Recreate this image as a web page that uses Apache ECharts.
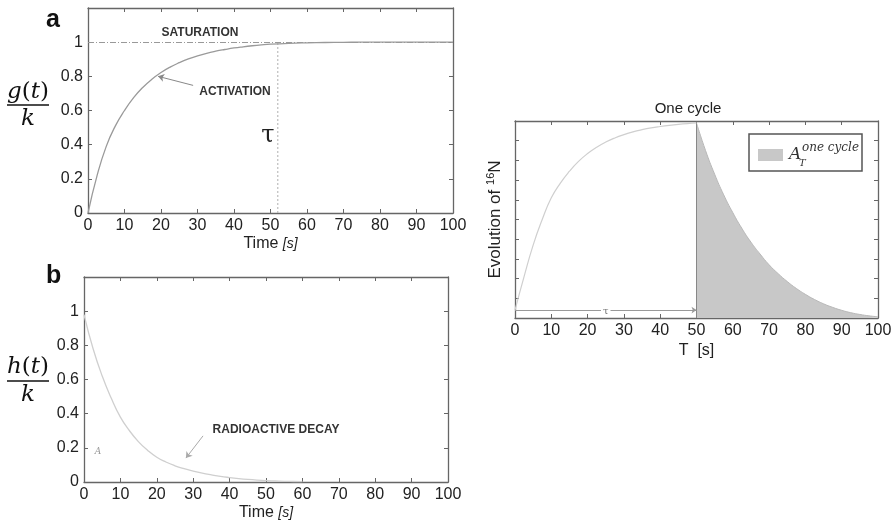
<!DOCTYPE html>
<html><head><meta charset="utf-8">
<script src="https://cdn.jsdelivr.net/npm/echarts@6/dist/echarts.min.js"></script>
<style>html,body{margin:0;padding:0;background:#fff}#c{width:896px;height:525px}</style>
</head><body><div id="c"></div>
<script>
// ---- data ----
const tA = [0, 2.5, 5, 7.5, 10, 12.5, 15, 17.5, 20, 22.5, 25, 27.5, 30, 32.5, 35, 37.5, 40, 42.5, 45, 47.5, 50,
            55, 60, 65, 70, 75, 80, 85, 90, 95, 100];
const gA = [0, 0.22, 0.39, 0.51, 0.60, 0.675, 0.735, 0.783, 0.822, 0.854, 0.88, 0.902, 0.92, 0.935, 0.947, 0.957, 0.966, 0.973, 0.979, 0.984, 0.988,
            0.993, 0.996, 0.998, 0.999, 1, 1, 1, 1, 1, 1];
const tB = [0, 2.5, 5, 7.5, 10, 12.5, 15, 17.5, 20, 22.5, 25, 27.5, 30, 32.5, 35, 37.5, 40, 42.5, 45, 47.5, 50, 52.5, 55, 57.5, 60];
const hB = [0.98, 0.78, 0.62, 0.49, 0.38, 0.30, 0.235, 0.185, 0.145, 0.117, 0.095, 0.078, 0.064, 0.052, 0.042, 0.033, 0.026, 0.02, 0.015, 0.011, 0.008, 0.006, 0.004, 0.003, 0.002];
const tRise = [0, 2.5, 5, 7.5, 10, 12.5, 15, 17.5, 20, 22.5, 25, 27.5, 30, 32.5, 35, 37.5, 40, 42.5, 45, 47.5, 50];
const nRise = [0.04, 0.21, 0.37, 0.50, 0.61, 0.685, 0.745, 0.795, 0.835, 0.867, 0.893, 0.914, 0.931, 0.945, 0.956, 0.965, 0.972, 0.978, 0.983, 0.987, 0.99];
const tDecay = [50, 52.5, 55, 57.5, 60, 62.5, 65, 67.5, 70, 72.5, 75, 77.5, 80, 82.5, 85, 87.5, 90, 92.5, 95, 97.5, 100];
const nDecay = [0.99, 0.85, 0.73, 0.625, 0.535, 0.455, 0.385, 0.325, 0.27, 0.225, 0.185, 0.15, 0.12, 0.094, 0.072, 0.054, 0.039, 0.027, 0.018, 0.011, 0.006];
const tauA = 52;          // dotted marker in panel a
const tauCycle = 50;      // end of irradiation in "One cycle"
const xTickStep = 10;
const yTickStepAB = 0.2;
const yTickStepC = 0.1;

// ---- helpers ----
const pair = (xs, ys) => xs.map((x, i) => [x, ys[i]]);
const AX = '#666';
const TXT = '#222';
const SANS = '"Liberation Sans", Arial, sans-serif';
const SERIF = '"DejaVu Serif", "Liberation Serif", serif';
const line = {show: true, onZero: false, lineStyle: {color: AX, width: 1.3}};
const tick = {show: true, inside: true, length: 4, lineStyle: {color: AX, width: 1}};
const lab = {color: TXT, fontSize: 16, fontFamily: SANS};

function xPair(grid, name, gap) {
  return [
    {type: 'value', gridIndex: grid, position: 'bottom', min: 0, max: 100, interval: xTickStep,
     axisLine: line, axisTick: tick, splitLine: {show: false},
     axisLabel: Object.assign({margin: 5}, lab),
     name: name, nameLocation: 'middle', nameGap: gap,
     nameTextStyle: {color: TXT, fontSize: 16, fontFamily: SANS,
       rich: {s: {color: TXT, fontSize: 14, fontStyle: 'italic', fontFamily: SANS}}}},
    {type: 'value', gridIndex: grid, position: 'top', min: 0, max: 100, interval: xTickStep,
     axisLine: line, axisTick: tick, splitLine: {show: false}, axisLabel: {show: false}}
  ];
}
function yPair(grid, max, step, showLab, extra) {
  return [
    Object.assign({type: 'value', gridIndex: grid, position: 'left', min: 0, max: max, interval: step,
     axisLine: line, axisTick: tick, splitLine: {show: false},
     axisLabel: showLab ? Object.assign({margin: 5,
       formatter: v => v > 1.05 ? '' : String(+v.toFixed(1))}, lab) : {show: false}}, extra || {}),
    {type: 'value', gridIndex: grid, position: 'right', min: 0, max: max, interval: step,
     axisLine: line, axisTick: tick, splitLine: {show: false}, axisLabel: {show: false}}
  ];
}
const arrowML = (a, b, color) => ({
  silent: true, symbol: ['none', 'arrow'], symbolSize: 6, label: {show: false},
  lineStyle: {color: color || '#888', width: 1, type: 'solid'},
  data: [[{coord: a}, {coord: b}]]
});

const chart = echarts.init(document.getElementById('c'), null, {renderer: 'canvas'});
chart.setOption({
  animation: false,
  backgroundColor: '#fff',
  grid: [
    {left: 88, top: 8, width: 365, height: 205},
    {left: 84, top: 277, width: 364, height: 205},
    {left: 515, top: 121, width: 363, height: 197}
  ],
  xAxis: [
    ...xPair(0, 'Time {s|[s]}', 23),
    ...xPair(1, 'Time {s|[s]}', 23),
    ...xPair(2, 'T  [s]', 25)
  ],
  yAxis: [
    ...yPair(0, 1.2, yTickStepAB, true),
    ...yPair(1, 1.2, yTickStepAB, true),
    ...yPair(2, 1, yTickStepC, false, {
      name: 'Evolution of {sup|16}N', nameLocation: 'middle', nameRotate: 90, nameGap: 9,
      nameTextStyle: {color: TXT, fontSize: 17, fontFamily: SANS,
        rich: {sup: {color: TXT, fontSize: 11, fontFamily: SANS, padding: [0, 0, 10, 0]}}}
    })
  ],
  title: {text: 'One cycle', left: 683, top: 96, textAlign: 'center',
    textStyle: {color: TXT, fontSize: 15, fontWeight: 'normal', fontFamily: SANS}},
  series: [
    {type: 'line', name: 'g', xAxisIndex: 0, yAxisIndex: 0, data: pair(tA, gA),
     smooth: 0.5, showSymbol: false, symbol: 'none',
     lineStyle: {color: '#9a9a9a', width: 1.3}, z: 3,
     markLine: {silent: true, symbol: 'none', label: {show: false},
       lineStyle: {color: '#999', width: 1, type: [6, 2, 1, 2]},
       data: [{yAxis: 1}]}},
    {type: 'line', name: 'tauA', xAxisIndex: 0, yAxisIndex: 0, data: [[tauA, 0], [tauA, 1]],
     showSymbol: false, symbol: 'none', lineStyle: {color: '#b0b0b0', width: 1, type: [2, 2]}, z: 2},
    {type: 'line', name: 'actArrow', xAxisIndex: 0, yAxisIndex: 0, data: [],
     markLine: arrowML([28.8, 0.747], [19.2, 0.80])},
    {type: 'line', name: 'h', xAxisIndex: 2, yAxisIndex: 2, data: pair(tB, hB),
     smooth: 0.5, showSymbol: false, symbol: 'none',
     lineStyle: {color: '#cfcfcf', width: 1.3}, z: 3,
     markLine: arrowML([32.7, 0.27], [28.0, 0.14], '#aaa')},
    {type: 'line', name: 'rise', xAxisIndex: 4, yAxisIndex: 4, data: pair(tRise, nRise),
     smooth: 0.5, showSymbol: false, symbol: 'none',
     lineStyle: {color: '#cfcfcf', width: 1.2}, z: 3,
     markLine: {silent: true, symbol: ['none', 'arrow'], symbolSize: 5,
       lineStyle: {color: '#999', width: 1, type: 'solid'},
       label: {show: true, position: 'middle', formatter: 'τ', color: '#777', fontSize: 10,
         fontFamily: SERIF, backgroundColor: '#fff', padding: [0, 2], distance: -6},
       data: [[{coord: [0, 0.04]}, {coord: [tauCycle, 0.04]}]]}},
    {type: 'line', name: 'decay', xAxisIndex: 4, yAxisIndex: 4, data: pair(tDecay, nDecay),
     smooth: 0.5, showSymbol: false, symbol: 'none',
     lineStyle: {color: '#b8b8b8', width: 1}, areaStyle: {color: '#c8c8c8', opacity: 1}, z: 1},
    {type: 'line', name: 'edge', xAxisIndex: 4, yAxisIndex: 4,
     data: [[tauCycle, 0], [tauCycle, nDecay[0]]],
     showSymbol: false, symbol: 'none', lineStyle: {color: '#888', width: 1}, z: 2}
  ],
  graphic: [
    {type: 'text', left: 46, top: 8, style: {text: 'a', font: 'bold 25px ' + SANS, fill: '#111'}},
    {type: 'text', left: 46, top: 264, style: {text: 'b', font: 'bold 25px ' + SANS, fill: '#111'}},
    // fraction labels
    {type: 'text', x: 28, y: 92, style: {text: '{i|g}{u|(}{i|t}{u|)}', align: 'center', verticalAlign: 'middle',
      rich: {i: {font: 'italic 23px ' + SERIF, fill: '#111'}, u: {font: '23px ' + SERIF, fill: '#111'}}}},
    {type: 'line', shape: {x1: 7, y1: 105, x2: 49, y2: 105}, style: {stroke: '#111', lineWidth: 1.5}},
    {type: 'text', x: 28, y: 119, style: {text: 'k', font: 'italic 23px ' + SERIF, fill: '#111',
      align: 'center', verticalAlign: 'middle'}},
    {type: 'text', x: 28, y: 367, style: {text: '{i|h}{u|(}{i|t}{u|)}', align: 'center', verticalAlign: 'middle',
      rich: {i: {font: 'italic 23px ' + SERIF, fill: '#111'}, u: {font: '23px ' + SERIF, fill: '#111'}}}},
    {type: 'line', shape: {x1: 7, y1: 381, x2: 49, y2: 381}, style: {stroke: '#111', lineWidth: 1.5}},
    {type: 'text', x: 28, y: 395, style: {text: 'k', font: 'italic 23px ' + SERIF, fill: '#111',
      align: 'center', verticalAlign: 'middle'}},
    // annotations
    {type: 'text', x: 200, y: 33, style: {text: 'SATURATION', font: 'bold 12px ' + SANS, fill: '#333',
      align: 'center', verticalAlign: 'middle'}},
    {type: 'text', x: 235, y: 92, style: {text: 'ACTIVATION', font: 'bold 12px ' + SANS, fill: '#333',
      align: 'center', verticalAlign: 'middle'}},
    {type: 'text', x: 268, y: 136, style: {text: 'τ', font: '24px ' + SERIF, fill: '#222',
      align: 'center', verticalAlign: 'middle'}},
    {type: 'text', x: 276, y: 430, style: {text: 'RADIOACTIVE DECAY', font: 'bold 12px ' + SANS, fill: '#333',
      align: 'center', verticalAlign: 'middle'}},
    {type: 'text', x: 98, y: 452, style: {text: 'A', font: 'italic 9px ' + SERIF, fill: '#999',
      align: 'center', verticalAlign: 'middle'}},
    // legend of the "One cycle" panel
    {type: 'rect', shape: {x: 749, y: 134, width: 113, height: 37},
      style: {fill: '#fff', stroke: '#555', lineWidth: 1.5}, z: 10},
    {type: 'rect', shape: {x: 758, y: 149, width: 25, height: 12}, style: {fill: '#c8c8c8'}, z: 11},
    {type: 'text', x: 789, y: 155, z: 11, style: {text: 'A', font: 'italic 17px ' + SERIF, fill: '#333',
      verticalAlign: 'middle'}},
    {type: 'text', x: 799, y: 163, z: 11, style: {text: 'T', font: 'italic 10px ' + SERIF, fill: '#333',
      verticalAlign: 'middle'}},
    {type: 'text', x: 802, y: 148, z: 11, style: {text: 'one cycle', font: 'italic 12px ' + SERIF, fill: '#333',
      verticalAlign: 'middle'}}
  ]
});
</script>
</body></html>
